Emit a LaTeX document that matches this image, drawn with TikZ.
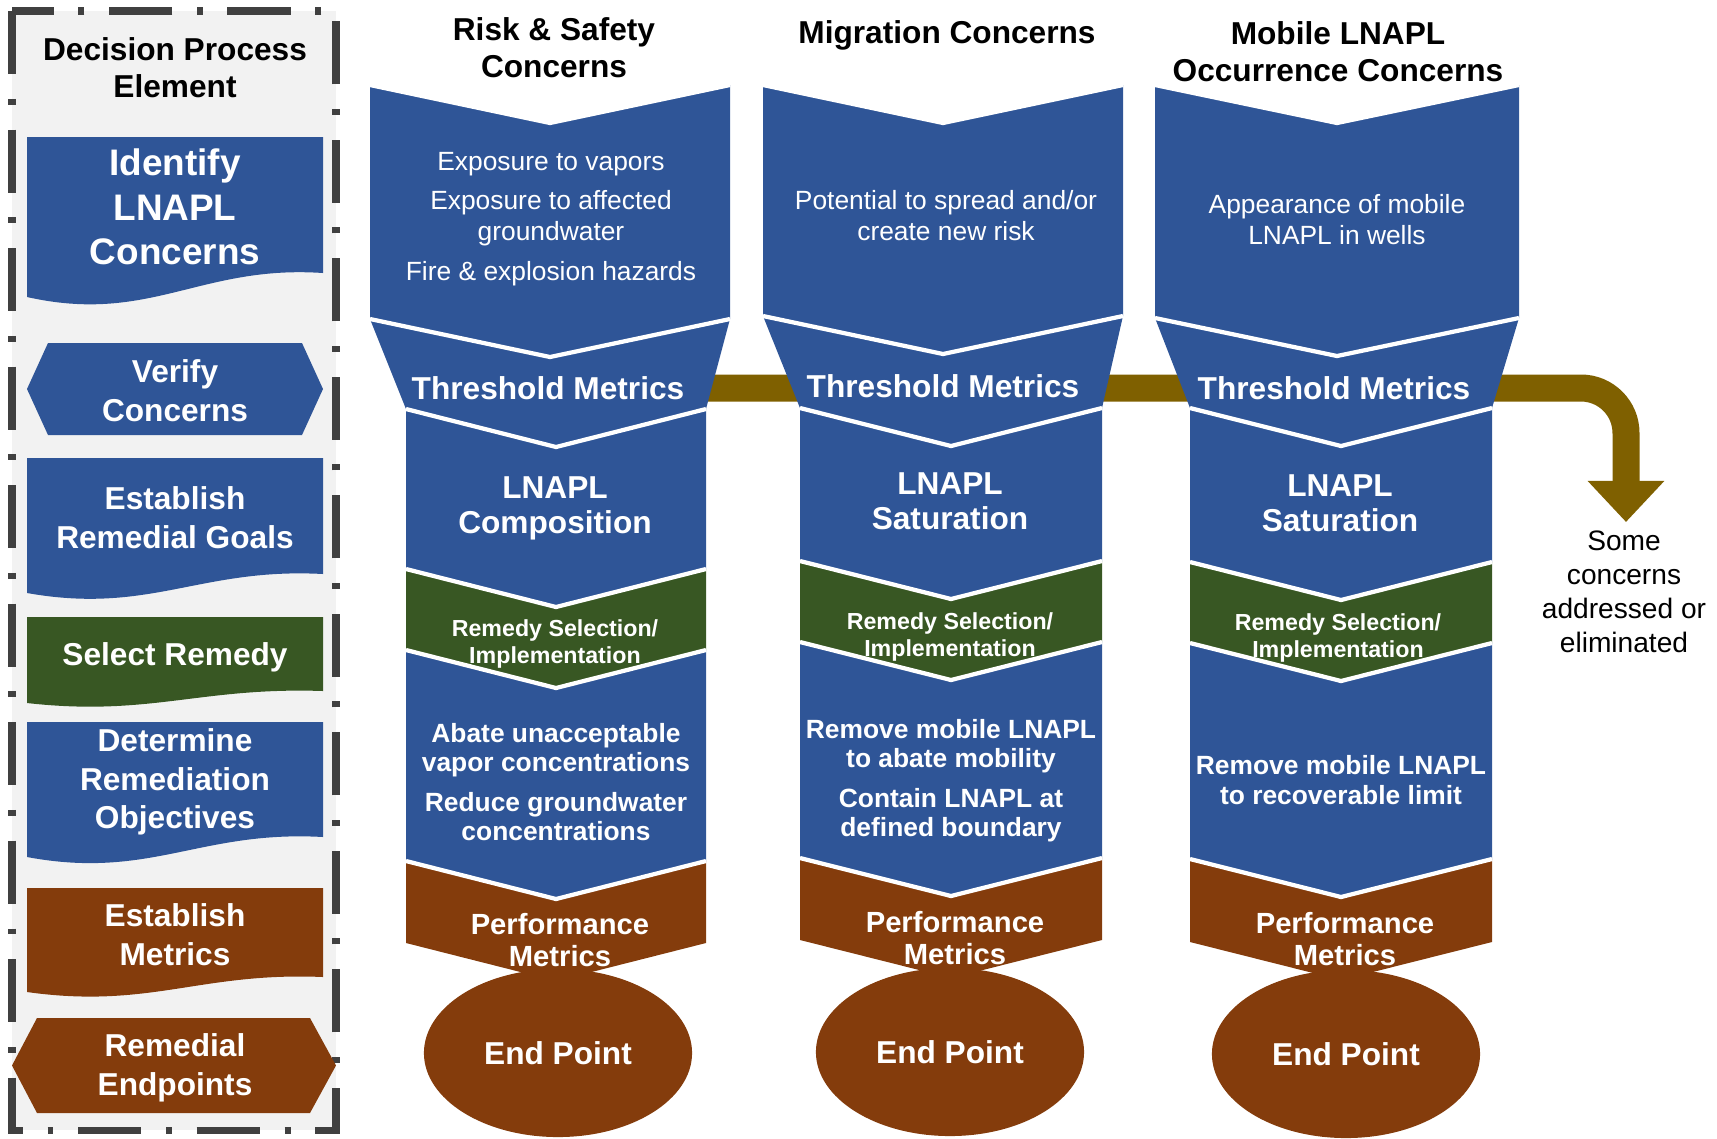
\documentclass[tikz,border=0pt]{standalone}
\usepackage{fontspec}
\setmainfont{Liberation Sans}
\usepackage{xcolor}
\usetikzlibrary{arrows.meta,shapes.geometric,backgrounds}

\definecolor{itrcblue}{HTML}{2F5597}
\definecolor{itrcgreen}{HTML}{385723}
\definecolor{itrcbrown}{HTML}{843C0C}
\definecolor{itrcgold}{HTML}{7F6000}
\definecolor{panelgray}{HTML}{F2F2F2}
\definecolor{panelline}{HTML}{404040}

% chevron: colour, top centre, top half width, top y, bottom centre, bottom half width, bottom y
\newcommand{\chev}[7]{%
  \fill[#1] (#2-#3,#4) -- (#2,#4+\dV) -- (#2+#3,#4) -- (#5+#6,#7) -- (#5,#7+\dV) -- (#5-#6,#7) -- cycle;
  \draw[sep] (#2-#3,#4) -- (#2,#4+\dV) -- (#2+#3,#4);}
% document box with wavy bottom: colour, top y, left bottom y, right bottom y
\newcommand{\docbox}[4]{%
  \fill[#1] (27,#2) -- (323,#2) -- (323,#4)
    .. controls (200,{#4-0.35*(#3-#4)}) and (150,{#3+1.15*(#3-#4)}) .. (27,#3) -- cycle;}
% hexagon: colour, left tip x, inner left x, inner right x, right tip x, top y, bottom y
\newcommand{\hexbox}[7]{%
  \fill[#1] (#2,{(#6+#7)/2}) -- (#3,#6) -- (#4,#6) -- (#5,{(#6+#7)/2}) -- (#4,#7) -- (#3,#7) -- cycle;}

\begin{document}
\begin{tikzpicture}[x=0.01cm, y=-0.01cm,
    sep/.style={white, line width=1.2pt},
    wtxt/.style={align=center, inner sep=0pt, text=white},
    hdr/.style={align=center, inner sep=0pt, font=\fontsize{9}{10.5}\selectfont\bfseries},
    elem/.style={wtxt, font=\fontsize{9}{11}\selectfont\bfseries},
    elembig/.style={wtxt, font=\fontsize{10.5}{12.6}\selectfont\bfseries},
    concern/.style={wtxt, font=\fontsize{7.5}{8.8}\selectfont},
    thresh/.style={wtxt, font=\fontsize{9}{10.8}\selectfont\bfseries},
    metric/.style={wtxt, font=\fontsize{9}{10}\selectfont\bfseries},
    remedy/.style={wtxt, font=\fontsize{6.6}{7.7}\selectfont\bfseries},
    objective/.style={wtxt, font=\fontsize{7.5}{8.3}\selectfont\bfseries},
    perf/.style={wtxt, font=\fontsize{8.3}{9}\selectfont\bfseries},
    endpt/.style={wtxt, ellipse, fill=itrcbrown, minimum width=2.68cm, minimum height=1.68cm,
      font=\fontsize{9}{10.8}\selectfont\bfseries},
    band/.style={itrcgold, line width=0.27cm, rounded corners=0.45cm,
      -{Triangle[width=0.74cm,length=0.41cm]}},
    note/.style={align=center, inner sep=0pt, font=\fontsize{8}{9.7}\selectfont}]
    % --- Definitions ---
    \def\dV{38}   % depth of the chevron notches
    \useasboundingbox (0,0) rectangle (1717,1138);

    % --- Decision process panel ---
    \draw[panelline, fill=panelgray, line width=2pt,
      dash pattern=on 18pt off 7pt on 1.7pt off 7pt] (12,11) rectangle (336,1130);
    \docbox{itrcblue}{137}{297}{273}
    \hexbox{itrcblue}{27}{48}{302}{323}{343}{435}
    \docbox{itrcblue}{458}{593}{574}
    \docbox{itrcgreen}{617}{703}{691}
    \docbox{itrcblue}{722}{857}{837}
    \docbox{itrcbrown}{888}{992}{977}
    \hexbox{itrcbrown}{12}{37}{310}{336}{1018}{1113}

    \node[hdr] (dpe) at (175,68) {Decision Process\\Element};
    \node[elembig] (idc) at (175,207) {Identify\\LNAPL\\Concerns};
    \node[elem] (vfc) at (175,391) {Verify\\Concerns};
    \node[elem] (erg) at (175,518) {Establish\\Remedial Goals};
    \node[elem] (srm) at (175,657) {Select Remedy};
    \node[elem] (dro) at (175,782) {Determine\\Remediation\\Objectives};
    \node[elem] (emt) at (175,935) {Establish\\Metrics};
    \node[elem] (rep) at (175,1068) {Remedial\\Endpoints};

    % --- Risk & safety column ---
    \chev{itrcblue}{550}{180}{85}{550}{180}{319}
    \chev{itrcblue}{550}{180}{319}{556}{150}{409}
    \chev{itrcblue}{556}{150}{409}{556}{150}{569}
    \chev{itrcgreen}{556}{150}{569}{556}{150}{650}
    \chev{itrcblue}{556}{150}{650}{556}{150}{861}
    \chev{itrcbrown}{556}{150}{861}{556}{150}{943}
    \node[endpt] (ep1) at (558,1053) {End Point};

    \node[hdr] (t1) at (554,48) {Risk \& Safety\\Concerns};
    \node[concern] (c1) at (551,219) {Exposure to vapors\\[2.4pt]Exposure to affected\\groundwater\\[2.4pt]Fire \& explosion hazards};
    \node[thresh] (th1) at (548,388) {Threshold Metrics};
    \node[metric] (m1) at (555,508) {LNAPL\\Composition};
    \node[remedy] (rs1) at (555,644) {Remedy Selection/\\Implementation};
    \node[objective] (ob1) at (556,782) {Abate unacceptable\\vapor concentrations\\[3pt]Reduce groundwater\\concentrations};
    \node[perf] (pm1) at (560,940) {Performance\\Metrics};

    % --- Migration column ---
    \chev{itrcblue}{943}{180}{85}{943}{180}{316}
    \chev{itrcblue}{943}{180}{316}{951}{151}{408}
    \chev{itrcblue}{951}{151}{408}{951}{151}{561}
    \chev{itrcgreen}{951}{151}{561}{951}{151}{642}
    \chev{itrcblue}{951}{151}{642}{951}{151}{858}
    \chev{itrcbrown}{951}{151}{858}{951}{151}{940}
    \node[endpt] (ep2) at (950,1052) {End Point};

    \node[hdr] (t2) at (947,35) {Migration Concerns};
    \node[concern] (c2) at (946,216) {Potential to spread and/or\\create new risk};
    \node[thresh] (th2) at (943,386) {Threshold Metrics};
    \node[metric] (m2) at (950,501) {LNAPL\\Saturation};
    \node[remedy] (rs2) at (950,637) {Remedy Selection/\\Implementation};
    \node[objective] (ob2) at (951,781) {Remove mobile LNAPL\\to abate mobility\\[3pt]Contain LNAPL at\\defined boundary};
    \node[perf] (pm2) at (955,938) {Performance\\Metrics};

    % --- Mobile LNAPL column ---
    \chev{itrcblue}{1337}{182}{85}{1337}{182}{318}
    \chev{itrcblue}{1337}{182}{318}{1341}{151}{408}
    \chev{itrcblue}{1341}{151}{408}{1341}{151}{562}
    \chev{itrcgreen}{1341}{151}{562}{1341}{151}{643}
    \chev{itrcblue}{1341}{151}{643}{1341}{151}{859}
    \chev{itrcbrown}{1341}{151}{859}{1341}{151}{942}
    \node[endpt] (ep3) at (1346,1054) {End Point};

    \node[hdr] (t3) at (1338,52) {Mobile LNAPL\\Occurrence Concerns};
    \node[concern] (c3) at (1337,220) {Appearance of mobile\\LNAPL in wells};
    \node[thresh] (th3) at (1334,388) {Threshold Metrics};
    \node[metric] (m3) at (1340,503) {LNAPL\\Saturation};
    \node[remedy] (rs3) at (1338,638) {Remedy Selection/\\Implementation};
    \node[objective] (ob3) at (1341,780) {Remove mobile LNAPL\\to recoverable limit};
    \node[perf] (pm3) at (1345,939) {Performance\\Metrics};

    % --- Threshold band and outcome ---
    \coordinate (tip) at (1626,522);
    \node[note] (out) at (1624,592) {Some\\concerns\\addressed or\\eliminated};
    \begin{pgfonlayer}{background}
      \draw[band] (th1) -- (th1 -| tip) -- (tip);
    \end{pgfonlayer}
\end{tikzpicture}
\end{document}
